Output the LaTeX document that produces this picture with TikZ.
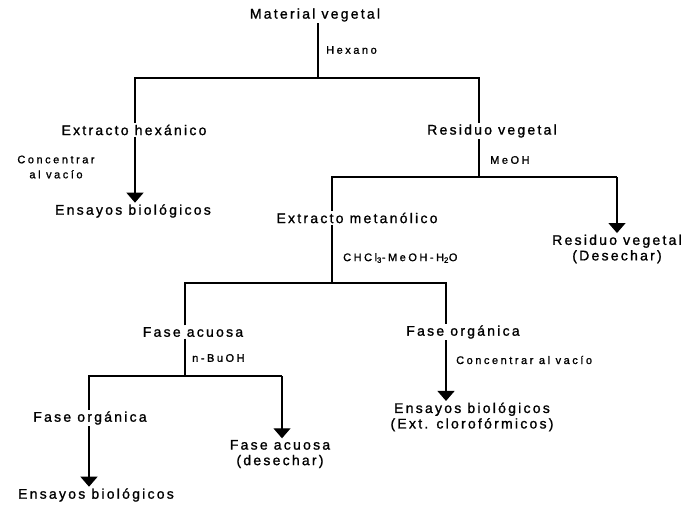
\documentclass[tikz,border=0pt]{standalone}
\usepackage{fontspec}
\usetikzlibrary{arrows.meta}
\newfontfamily\bigf{Liberation Sans}[LetterSpace=16, FakeBold=1.2]
\newfontfamily\smallf{Liberation Sans}[LetterSpace=23, FakeBold=1.2]
\tikzset{
  main/.style={font=\bigf\fontsize{14}{15.5}\selectfont, inner sep=1.5pt, align=center},
  lbl/.style={font=\smallf\fontsize{11}{15}\selectfont, inner sep=1pt, anchor=west, align=center},
  ln/.style={line width=1.3pt},
  arr/.style={line width=1.3pt, -{Triangle[width=17pt,length=10pt]}}
}
\begin{document}
\begin{tikzpicture}[x=1pt,y=-1pt]
\useasboundingbox (0,0) rectangle (695,504);
% nodes
\node[main] (mv) at (315,15) {Material vegetal};
\node[lbl] (hex) at (325,50) {Hexano};
\node[main] (eh) at (134,130) {Extracto hexánico};
\node[main] (rv1) at (492,131) {Residuo vegetal};
\node[lbl, anchor=center] (conc1) at (56,167) {Concentrar\\al vacío};
\node[main] (eb1) at (133,211) {Ensayos biológicos};
\node[lbl] (meoh) at (489,160) {MeOH};
\node[main] (em) at (357,218) {Extracto metanólico};
\node[main] (rv2) at (617,249) {Residuo vegetal\\(Desechar)};
\node[lbl] (chcl) at (342,258) {CHCl\textsubscript{3}-MeOH-H\textsubscript{2}O};
\node[main] (fa1) at (193,332) {Fase acuosa};
\node[main] (fo1) at (463,332) {Fase orgánica};
\node[lbl] (nbu) at (191,358) {n-BuOH};
\node[lbl] (conc2) at (455,360) {Concentrar al vacío};
\node[main] (eb3) at (472,417) {Ensayos biológicos\\(Ext. clorofórmicos)};
\node[main] (fo2) at (90,418) {Fase orgánica};
\node[main] (fa2) at (280,454) {Fase acuosa\\(desechar)};
\node[main] (eb2) at (96,495) {Ensayos biológicos};
% junctions
\coordinate (j1) at (318,78);
\coordinate (j1l) at (135,78);
\coordinate (j1r) at (479,78);
\coordinate (j2) at (479,177);
\coordinate (j2l) at (332,177);
\coordinate (j2r) at (617,177);
\coordinate (j3) at (332,283);
\coordinate (j3l) at (185,283);
\coordinate (j3r) at (446,283);
\coordinate (j4) at (185,376);
\coordinate (j4l) at (89,376);
\coordinate (j4r) at (282,376);
% connectors
\draw[ln] (mv.south -| j1) -- (j1);
\draw[ln] (j1l |- eh.north) -- (j1l) -- (j1r) -- (j1r |- rv1.north);
\draw[arr] (eh.south -| j1l) -- (eb1.north -| j1l);
\draw[ln] (rv1.south -| j2) -- (j2);
\draw[ln] (j2l |- em.north) -- (j2l) -- (j2r);
\draw[arr] (j2r) -- (rv2.north -| j2r);
\draw[ln] (em.south -| j3) -- (j3);
\draw[ln] (j3l |- fa1.north) -- (j3l) -- (j3r) -- (j3r |- fo1.north);
\draw[ln] (fa1.south -| j4) -- (j4);
\draw[ln] (j4l |- fo2.north) -- (j4l) -- (j4r);
\draw[arr] (j4r) -- (fa2.north -| j4r);
\draw[arr] (fo2.south -| j4l) -- (eb2.north -| j4l);
\draw[arr] (fo1.south -| j3r) -- (eb3.north -| j3r);
\end{tikzpicture}
\end{document}
